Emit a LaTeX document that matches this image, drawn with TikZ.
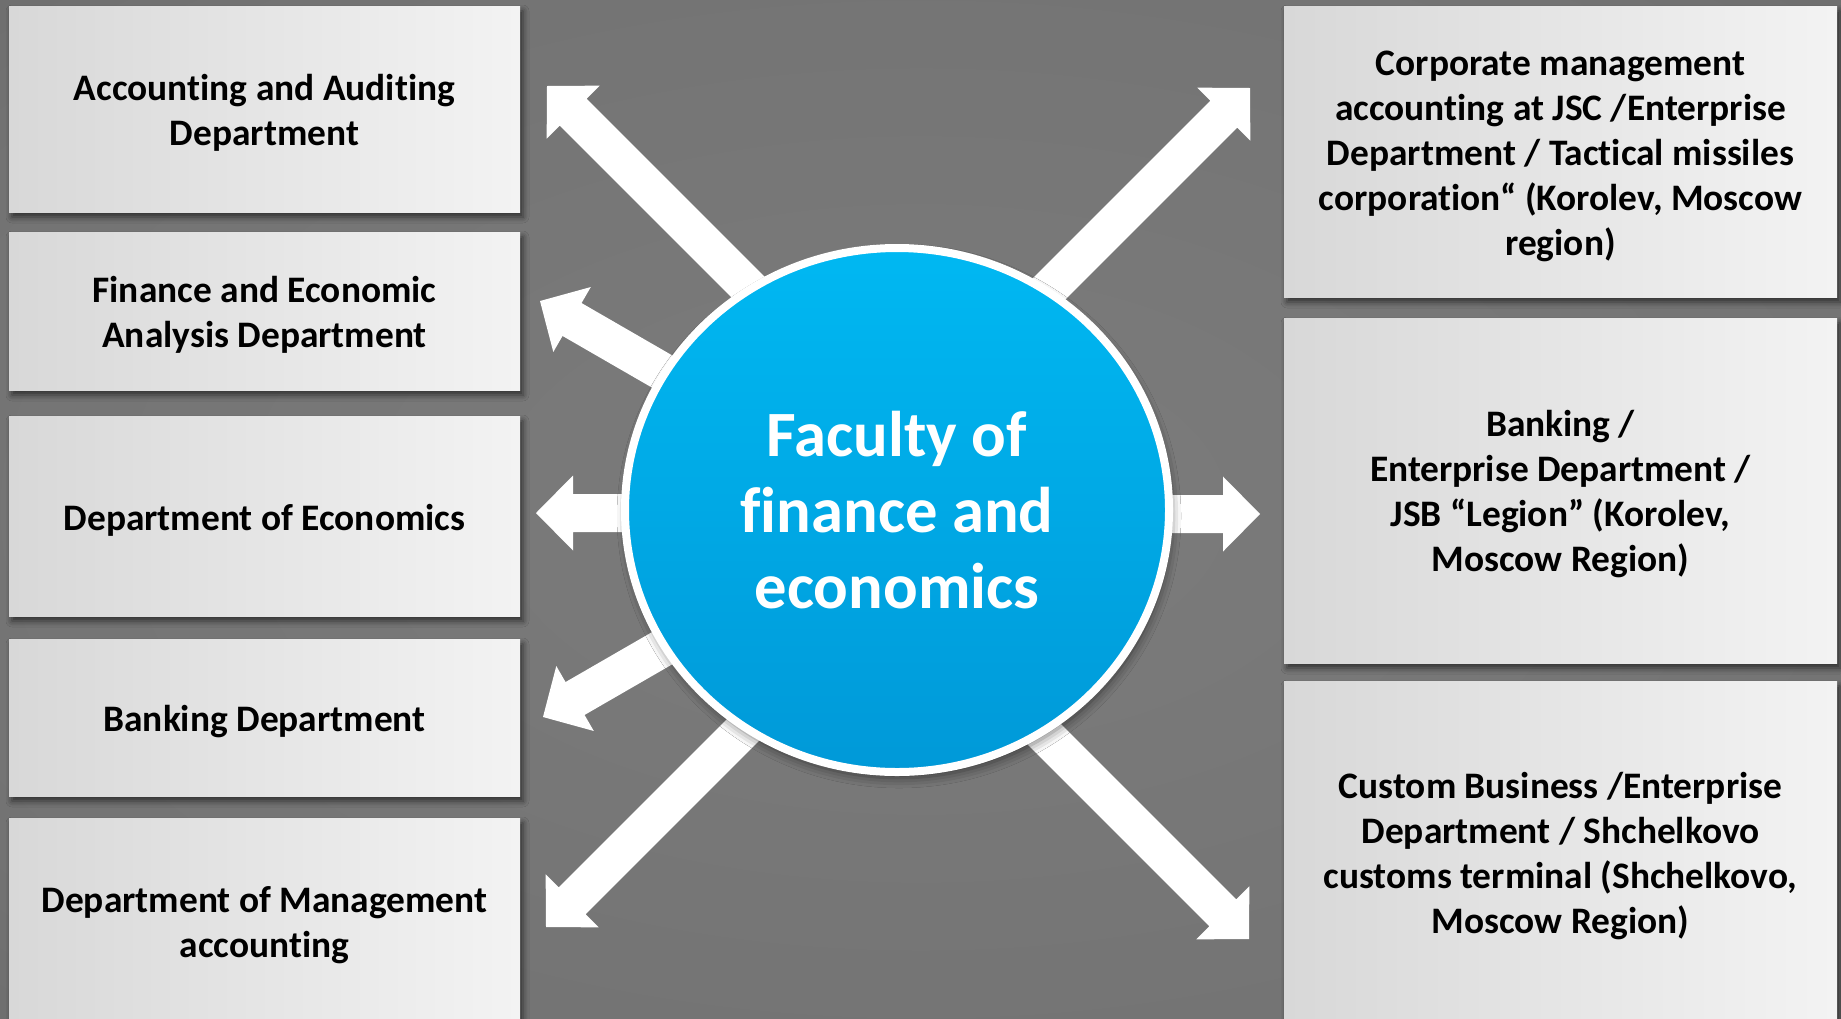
\documentclass[tikz,border=0pt]{standalone}
\usepackage{fontspec}
\setmainfont{Carlito}[Ligatures=NoCommon]
\usetikzlibrary{shapes.geometric,shadows.blur}
\definecolor{bgin}{RGB}{124,124,124}
\definecolor{bgmid}{RGB}{115,115,115}
\definecolor{bgout}{RGB}{90,90,90}
\definecolor{boxl}{RGB}{216,216,216}
\definecolor{boxr}{RGB}{243,243,243}
\definecolor{blutop}{RGB}{0,184,242}
\definecolor{blubot}{RGB}{0,153,216}
\pgfdeclareradialshading{bgshade}{\pgfpoint{0bp}{0bp}}{color(0bp)=(bgin); color(30bp)=(bgmid); color(60bp)=(bgout); color(72bp)=(bgout)}
\tikzset{
  boxbase/.style={rectangle, left color=boxl, right color=boxr, inner sep=0pt,
    blur shadow={shadow xshift=3pt, shadow yshift=-5pt, shadow blur radius=6pt, shadow opacity=60}},
  lbox/.style={boxbase, minimum width=511pt},
  rbox/.style={boxbase, minimum width=553pt},
  boxtext/.style={inner sep=0pt, align=center, font=\fontsize{37.4}{45}\selectfont\bfseries, text=black},
  hub/.style={ellipse, minimum width=544pt, minimum height=524pt, top color=blutop, bottom color=blubot,
    draw=white, line width=8pt, inner sep=0pt, text=white, align=center,
    font=\fontsize{64.6}{76}\selectfont\bfseries,
    blur shadow={shadow xshift=2pt, shadow yshift=-6pt, shadow blur radius=10pt, shadow opacity=55}},
  barrow/.pic={\fill[white] (0,0) -- (37,37.5) -- (37,19) -- (#1,19) -- (#1,-19) -- (37,-19) -- (37,-37.5) -- cycle;}
}
\begin{document}
\begin{tikzpicture}[x=1pt,y=-1pt]
\useasboundingbox (0,0) rectangle (1841,1018);
\shade[shading=bgshade] (0,0) rectangle (1841,1018);

% left boxes
\node[lbox, minimum height=206pt] (l1) at (264.5,109) {};
\node[lbox, minimum height=158pt] (l2) at (264.5,311) {};
\node[lbox, minimum height=200pt] (l3) at (264.5,516) {};
\node[lbox, minimum height=157pt] (l4) at (264.5,717.5) {};
\node[lbox, minimum height=206pt] (l5) at (264.5,921) {};
\node[boxtext] (l1t) at ([yshift=-4pt]l1.center) {Accounting and Auditing\\Department};
\node[boxtext] (l2t) at ([yshift=-4pt]l2.center) {Finance and Economic\\Analysis Department};
\node[boxtext] (l3t) at ([yshift=-4pt]l3.center) {Department of Economics};
\node[boxtext] (l4t) at ([yshift=-4pt]l4.center) {Banking Department};
\node[boxtext] (l5t) at ([yshift=-4pt]l5.center) {Department of Management\\accounting};

% right boxes
\node[rbox, minimum height=291pt] (r1) at (1560.5,151.5) {};
\node[rbox, minimum height=345pt] (r2) at (1560.5,490.5) {};
\node[rbox, minimum height=345pt] (r3) at (1560.5,853.5) {};
\node[boxtext] (r1t) at ([yshift=-5pt]r1.center) {Corporate management\\accounting at JSC /Enterprise\\Department / Tactical missiles\\corporation“ (Korolev, Moscow\\region)};
\node[boxtext] (r2t) at ([yshift=-4pt]r2.center) {Banking /\\Enterprise Department /\\JSB “Legion” (Korolev,\\Moscow Region)};
\node[boxtext] (r3t) at ([yshift=-3pt]r3.center) {Custom Business /Enterprise\\Department / Shchelkovo\\customs terminal (Shchelkovo,\\Moscow Region)};

% arrows (apex at the outer end, shaft runs under the hub)
\pic[rotate=-45] at (547,86) {barrow=450};
\pic[rotate=-30] at (540,301) {barrow=330};
\pic at (536,513) {barrow=300};
\pic[rotate=30] at (543,717) {barrow=330};
\pic[rotate=45] at (546,927) {barrow=450};
\pic[rotate=-135] at (1250,88) {barrow=450};
\pic[rotate=180] at (1260,514) {barrow=300};
\pic[rotate=135] at (1249,939) {barrow=450};

% hub
\node[hub] (fac) at (897,510) {Faculty of\\finance and\\economics};
\end{tikzpicture}
\end{document}
